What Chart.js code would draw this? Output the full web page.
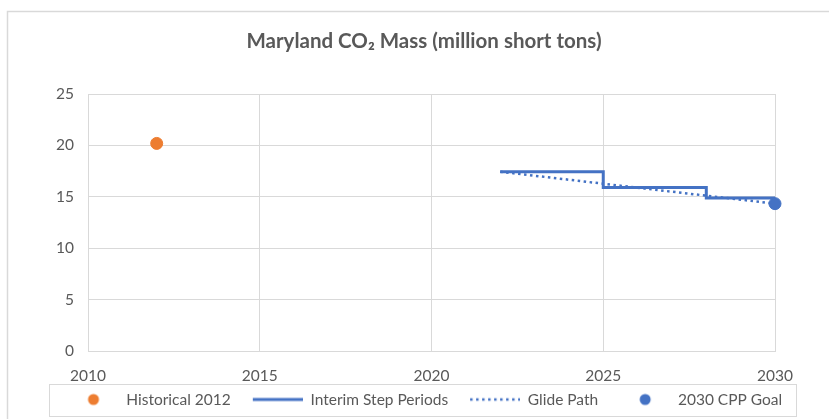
<!DOCTYPE html>
<html>
<head>
<meta charset="utf-8">
<script src="https://cdn.jsdelivr.net/npm/chart.js@4.4.0/dist/chart.umd.min.js"></script>
<style>
  html, body { margin: 0; padding: 0; background: #fff; }
</style>
</head>
<body>
<canvas id="chart" width="829" height="419"></canvas>
<script>
'use strict';

// values (million short tons)
var histYears = [2012];
var histValues = [20.2];
var stepYears = [2022, 2025, 2028, 2030];
var stepValues = [17.45, 15.91, 14.91, 14.91];
var glideYears = [2022, 2030];
var glideValues = [17.45, 14.35];
var goalYears = [2030];
var goalValues = [14.35];
var xTicks = [2010, 2015, 2020, 2025, 2030];
var yTicks = [0, 5, 10, 15, 20, 25];
var seriesNames = ['Historical 2012', 'Interim Step Periods', 'Glide Path', '2030 CPP Goal'];

var orange = '#ED7D31';
var blue = '#4472C4';
var textGrey = '#595959';
var lineGrey = '#d9d9d9';
var fontName = 'Lato';
var tickSize = 15.5;
var legendSize = 15.5;

function toPoints(xs, ys) {
  var pts = [];
  for (var i = 0; i < xs.length; i++) {
    pts.push({ x: xs[i], y: ys[i] });
  }
  return pts;
}

// little canvases used as legend markers
function markerImage(kind, color) {
  var c = document.createElement('canvas');
  c.width = 60;
  c.height = 14;
  var g = c.getContext('2d');
  g.fillStyle = color;
  g.strokeStyle = color;
  if (kind === 'dot') {
    g.beginPath();
    g.arc(35, 7, 5.5, 0, Math.PI * 2);
    g.fill();
  } else {
    g.lineWidth = kind === 'line' ? 3 : 2.5;
    if (kind === 'dots') g.setLineDash([2.5, 3.5]);
    g.beginPath();
    g.moveTo(10, 7);
    g.lineTo(60, 7);
    g.stroke();
  }
  return c;
}

var markers = [
  markerImage('dot', orange),
  markerImage('line', blue),
  markerImage('dots', blue),
  markerImage('dot', blue)
];

var frame = {
  id: 'frame',
  afterLayout: function (chart) {
    var lg = chart.legend;
    lg.left = 46.5;
    lg.right = 829;
    lg.top = 397.5 - 10 - legendSize / 2;
    lg.bottom = 419;
    var tb = chart.titleBlock;
    tb.left = 19;
    tb.right = 829;
  },
  beforeDraw: function (chart) {
    var ctx = chart.ctx;
    ctx.save();
    ctx.strokeStyle = lineGrey;
    ctx.lineWidth = 1.5;
    ctx.beginPath();
    ctx.moveTo(7.5, 419);
    ctx.lineTo(7.5, 11.5);
    ctx.lineTo(829, 11.5);
    ctx.stroke();
    ctx.restore();
  },
  afterDraw: function (chart) {
    var hb = chart.legend.legendHitBoxes;
    if (!hb || !hb.length) return;
    var first = hb[0];
    var last = hb[hb.length - 1];
    var cy = first.top + first.height / 2;
    var left = Math.round(first.left) - 10 + 0.5;
    var right = Math.round(last.left + last.width) + 14 + 0.5;
    var ctx = chart.ctx;
    ctx.save();
    ctx.strokeStyle = lineGrey;
    ctx.lineWidth = 1;
    ctx.strokeRect(left, Math.round(cy - 16) + 0.5, right - left, 32);
    ctx.restore();
  }
};

var ctx = document.getElementById('chart').getContext('2d');
new Chart(ctx, {
  type: 'scatter',
  data: {
    datasets: [
      {
        label: seriesNames[0],
        data: toPoints(histYears, histValues),
        backgroundColor: orange,
        borderColor: orange,
        pointRadius: 6,
        showLine: false,
        clip: false,
        order: 0
      },
      {
        label: seriesNames[1],
        data: toPoints(stepYears, stepValues),
        borderColor: blue,
        backgroundColor: blue,
        borderWidth: 3,
        pointRadius: 0,
        showLine: true,
        stepped: true,
        clip: false,
        order: 1
      },
      {
        label: seriesNames[2],
        data: toPoints(glideYears, glideValues),
        borderColor: blue,
        backgroundColor: blue,
        borderWidth: 2.5,
        borderDash: [2.5, 3.5],
        pointRadius: 0,
        showLine: true,
        clip: false,
        order: 2
      },
      {
        label: seriesNames[3],
        data: toPoints(goalYears, goalValues),
        backgroundColor: blue,
        borderColor: blue,
        pointRadius: 6,
        showLine: false,
        clip: false,
        order: -1
      }
    ]
  },
  options: {
    responsive: false,
    animation: false,
    events: [],
    layout: { padding: { left: 0, right: 54, top: 0, bottom: -18.5 } },
    scales: {
      x: {
        type: 'linear',
        min: 2010,
        max: 2030,
        afterBuildTicks: function (scale) {
          scale.ticks = xTicks.map(function (v) { return { value: v }; });
        },
        ticks: {
          color: textGrey,
          font: { family: fontName, size: tickSize },
          padding: 15,
          maxRotation: 0,
          callback: function (v) { return String(v); }
        },
        grid: { color: lineGrey, drawTicks: false },
        border: { color: lineGrey }
      },
      y: {
        min: 0,
        max: 25,
        afterBuildTicks: function (scale) {
          scale.ticks = yTicks.map(function (v) { return { value: v }; });
        },
        afterFit: function (scale) { scale.width = 88; },
        ticks: {
          color: textGrey,
          font: { family: fontName, size: tickSize },
          padding: 14
        },
        grid: { color: lineGrey, drawTicks: false },
        border: { color: lineGrey }
      }
    },
    plugins: {
      tooltip: { enabled: false },
      title: {
        display: true,
        text: 'Maryland CO\u2082 Mass (million short tons)',
        color: textGrey,
        font: { family: fontName, size: 20.5, weight: 'bold' },
        padding: { top: 29, bottom: 40.4 }
      },
      legend: {
        position: 'bottom',
        align: 'start',
        labels: {
          usePointStyle: true,
          pointStyleWidth: 60,
          padding: 12,
          color: textGrey,
          font: { family: fontName, size: legendSize },
          generateLabels: function (chart) {
            return seriesNames.map(function (name, i) {
              return {
                text: name,
                pointStyle: markers[i],
                fillStyle: 'transparent',
                strokeStyle: 'transparent',
                lineWidth: 0,
                fontColor: textGrey,
                hidden: false,
                datasetIndex: i
              };
            });
          }
        }
      }
    }
  },
  plugins: [frame]
});
</script>
</body>
</html>
